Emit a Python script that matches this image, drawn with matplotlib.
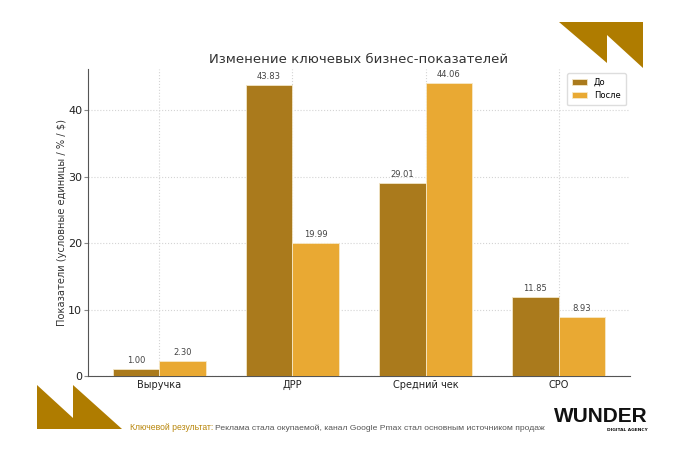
import numpy as np
import matplotlib.pyplot as plt
from matplotlib.patches import Polygon

categories = ["Выручка", "ДРР", "Средний чек", "CPO"]
before = [1.00, 43.83, 29.01, 11.85]
after = [2.30, 19.99, 44.06, 8.93]
series_names = ["До", "После"]

col_before = "#AA7A1C"
col_after = "#E9A933"
gold = "#AF7C00"

fig = plt.figure(figsize=(6.9, 4.53), dpi=100)
fig.patch.set_facecolor("white")

ax = fig.add_axes([0.1275, 0.17, 0.7855, 0.678])
x = np.arange(len(categories))
w = 0.35
b1 = ax.bar(x - w / 2, before, w, color=col_before, edgecolor="#f3e6c8", linewidth=0.6, label=series_names[0], zorder=3)
b2 = ax.bar(x + w / 2, after, w, color=col_after, edgecolor="#f7e9c8", linewidth=0.6, label=series_names[1], zorder=3)

for bars in (b1, b2):
    ax.bar_label(bars, fmt="%.2f", padding=3, fontsize=6, color="#444444")

ax.set_xticks(x)
ax.set_xticklabels(categories, fontsize=7, color="#222222")
ax.tick_params(axis="y", labelsize=8, colors="#222222", length=3, pad=1.2, color="#888888")
ax.tick_params(axis="x", length=0, pad=3)
ax.set_ylabel("Показатели (условные единицы / % / $)", fontsize=7.1, color="#333333")
ax.yaxis.set_label_coords(-0.038, 0.5)
ax.set_title("Изменение ключевых бизнес-показателей", fontsize=9.5, color="#333333", pad=4)
ax.grid(True, linestyle=":", color="#d4d4d4", linewidth=0.8, zorder=0)
ax.spines["top"].set_visible(False)
ax.spines["right"].set_visible(False)
ax.spines["left"].set_color("#555555")
ax.spines["bottom"].set_color("#555555")
ax.legend(loc="upper right", fontsize=6, framealpha=1, edgecolor="#dddddd",
          handlelength=1.8, handleheight=0.7, borderpad=0.6)

# decorative shapes (figure pixel coords, y from top)
W, H = 690, 453
def px(pts):
    return [(a / W, 1 - b / H) for a, b in pts]

top_shape = [(559, 22), (643, 22), (643, 68), (607, 35), (607, 63)]
bottom_shape = [(37, 385), (73, 418), (73, 385), (122, 429), (37, 429)]
fig.patches.append(Polygon(px(top_shape), closed=True, transform=fig.transFigure,
                           facecolor=gold, edgecolor="none"))
fig.patches.append(Polygon(px(bottom_shape), closed=True, transform=fig.transFigure,
                           facecolor=gold, edgecolor="none"))

# footer
narrow = ["Liberation Sans", "DejaVu Sans"]
fig.text(130 / W, 1 - 428 / H, "Ключевой результат:", fontsize=6.25, color="#B8860B",
         family=narrow, va="center")
fig.text(215 / W, 1 - 428 / H, "Реклама стала окупаемой, канал Google Pmax стал основным источником продаж",
         fontsize=6.1, color="#555555", family=narrow, va="center")

fig.text(601 / W, 1 - 416 / H, "WUNDER", fontsize=15, fontweight="bold", color="#111111",
         family=narrow, ha="center", va="center")
fig.text(648 / W, 1 - 430 / H, "DIGITAL AGENCY", fontsize=3.2, fontweight="bold", color="#111111",
         ha="right", va="center")

fig.savefig("out.png", dpi=100)
